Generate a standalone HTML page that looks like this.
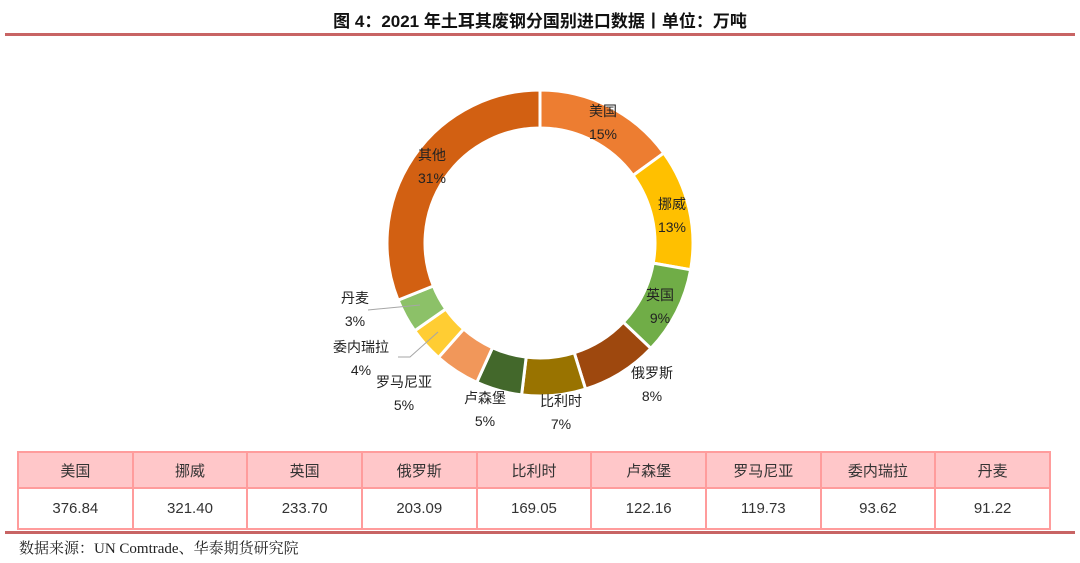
<!DOCTYPE html>
<html><head><meta charset="utf-8"><style>
body{margin:0;width:1080px;height:563px;background:#fff;position:relative;overflow:hidden;font-family:"Liberation Sans","Noto Sans CJK SC",sans-serif}
.title{position:absolute;top:7px;left:0;width:1080px;text-align:center;font-weight:bold;font-size:17px;color:#111}
.rule{position:absolute;left:5px;width:1070px;height:3px;background:#C86464}
table{position:absolute;left:17px;top:451px;border-collapse:collapse;table-layout:fixed;width:1034px}
td{border:2px solid #FF9C9C;text-align:center;font-size:15px;color:#333}
tr.h td{background:#FFC7C9;height:32px}
tr.v td{height:37px}
.src{position:absolute;left:19px;top:537px;font-size:15px;font-family:"Liberation Serif","Noto Serif CJK SC",serif;color:#222}
</style></head><body>
<div class="title">图 4：2021 年土耳其废钢分国别进口数据丨单位：万吨</div>
<div class="rule" style="top:33px"></div>
<svg id="chart" width="1080" height="450" style="position:absolute;left:0;top:0"></svg>
<table>
<tr class="h" id="hdr"></tr><tr class="v" id="vals"></tr></table>
<div class="rule" style="top:531px"></div>
<div class="src">数据来源：UN Comtrade、华泰期货研究院</div>
<script>
const categories=["美国","挪威","英国","俄罗斯","比利时","卢森堡","罗马尼亚","委内瑞拉","丹麦","其他"];
const values=[376.84,321.40,233.70,203.09,169.05,122.16,119.73,93.62,91.22,781];
const pctLabels=["15%","13%","9%","8%","7%","5%","5%","4%","3%","31%"];
const colors=["#ED7D31","#FFC000","#70AD47","#9E480E","#997300","#43682B","#F1975A","#FFCD33","#8CC168","#D26012"];
const labelPos=[[603,111],[672,204],[660,295],[652,373],[561,401],[485,398],[404,382],[361,347],[355,298],[432,155]];
const NS="http://www.w3.org/2000/svg";
const svg=document.getElementById('chart');
const cx=540,cy=243,R=153,r=115;
const total=values.reduce((a,b)=>a+b,0);
function pt(a,rad){return [cx+rad*Math.sin(a),cy-rad*Math.cos(a)];}
let a0=0;
values.forEach((v,i)=>{
  const a1=a0+v/total*2*Math.PI;
  const [x1,y1]=pt(a0,R),[x2,y2]=pt(a1,R),[x3,y3]=pt(a1,r),[x4,y4]=pt(a0,r);
  const lg=(a1-a0)>Math.PI?1:0;
  const p=document.createElementNS(NS,'path');
  p.setAttribute('d',`M${x1},${y1}A${R},${R} 0 ${lg} 1 ${x2},${y2}L${x3},${y3}A${r},${r} 0 ${lg} 0 ${x4},${y4}Z`);
  p.setAttribute('fill',colors[i]);p.setAttribute('stroke','#fff');p.setAttribute('stroke-width','3');
  
  
  svg.appendChild(p);
  a0=a1;
});
function line(d,n){const l=document.createElementNS(NS,'polyline');l.setAttribute('points',d);l.setAttribute('fill','none');l.setAttribute('stroke','#A6A6A6');l.setAttribute('stroke-width','1');


svg.appendChild(l);}
line("420,305 378,309 368,310",'leader-denmark');
line("438,332 410,357 398,357",'leader-venezuela');
categories.forEach((c,i)=>{
  const [x,y]=labelPos[i];
  const pct=pctLabels[i]||(Math.round(values[i]/total*100)+'%');
  [[c,y],[pct,y+23]].forEach((t,k)=>{
    const e=document.createElementNS(NS,'text');
    e.setAttribute('x',x);e.setAttribute('y',t[1]+5);e.setAttribute('text-anchor','middle');
    e.setAttribute('font-size','14');e.setAttribute('fill','#222');
    e.setAttribute('font-family','"Liberation Sans","Noto Sans CJK SC",sans-serif');
    e.textContent=t[0];
    
    
    svg.appendChild(e);
  });
});
const hdr=document.getElementById('hdr'),vals=document.getElementById('vals');
for(let i=0;i<9;i++){
  const h=document.createElement('td');h.textContent=categories[i];
  
  
  hdr.appendChild(h);
  const v=document.createElement('td');v.textContent=values[i].toFixed(2);
  
  
  vals.appendChild(v);
}
</script>
</body></html>
